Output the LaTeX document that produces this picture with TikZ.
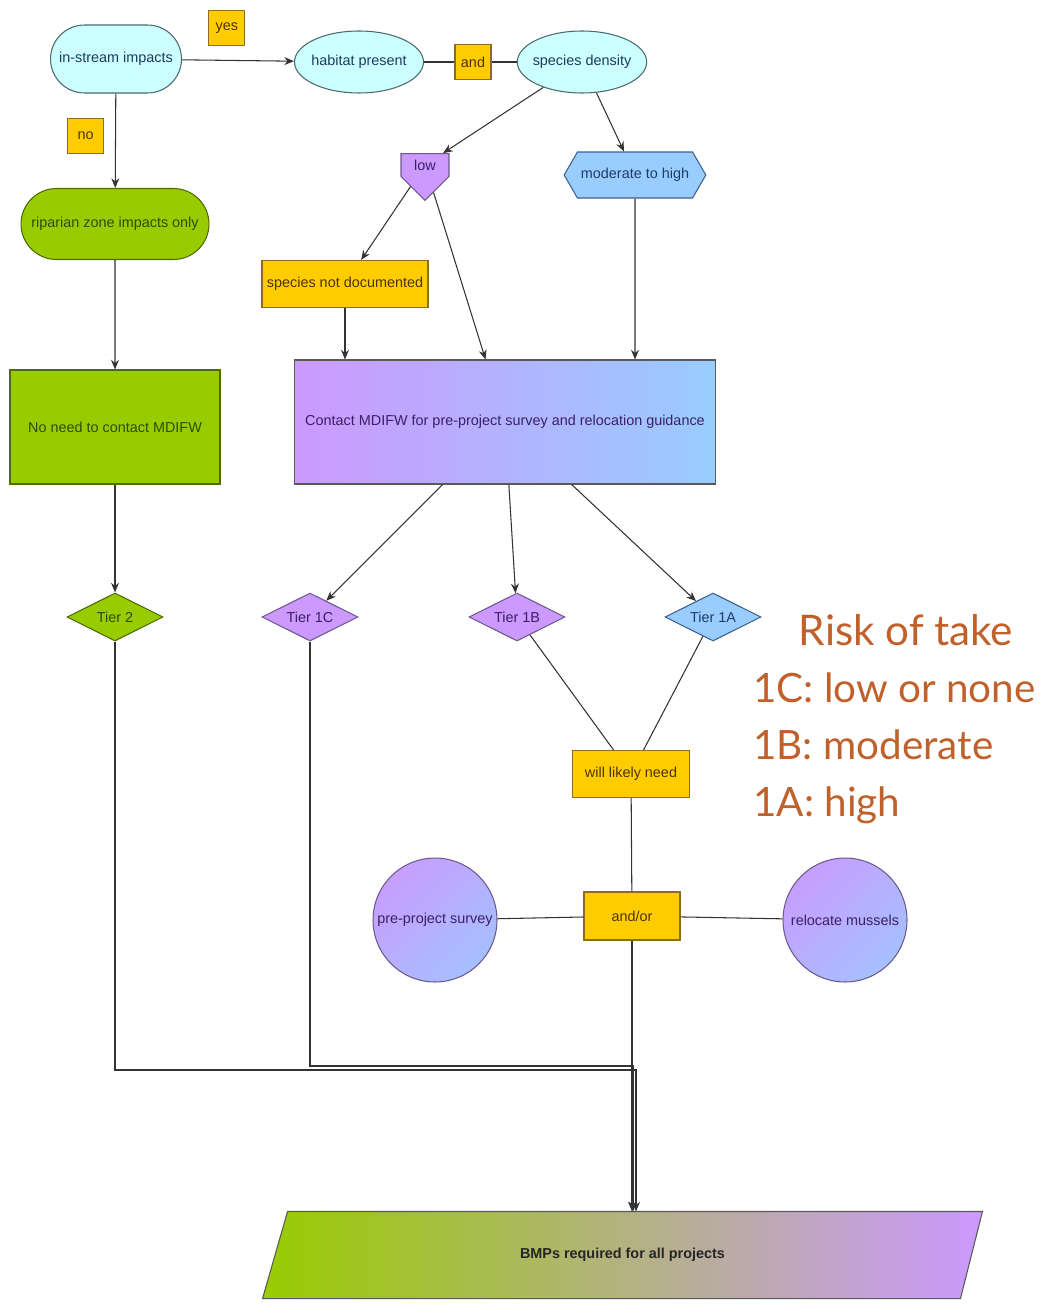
\documentclass[tikz,border=0pt]{standalone}
\usepackage{fontspec}
\setmainfont{Liberation Sans}
\newfontfamily\riskfont{Lato}
\usepackage{xcolor}
\usetikzlibrary{arrows,arrows.meta,shapes,backgrounds}
\definecolor{aqua}{HTML}{CCFFFF}
\definecolor{aquaText}{HTML}{1E3A5F}
\definecolor{aquaLine}{HTML}{4A6B6B}
\definecolor{gold}{HTML}{FFCC00}
\definecolor{goldText}{HTML}{4D3300}
\definecolor{goldLine}{HTML}{8C6D1F}
\definecolor{lime}{HTML}{99CC00}
\definecolor{limeText}{HTML}{2E4D00}
\definecolor{limeLine}{HTML}{4D6B00}
\definecolor{lilac}{HTML}{CC99FF}
\definecolor{lilacText}{HTML}{3D1F66}
\definecolor{lilacLine}{HTML}{6E5A8C}
\definecolor{sky}{HTML}{99CCFF}
\definecolor{skyText}{HTML}{1F3D66}
\definecolor{skyLine}{HTML}{40608C}
\definecolor{sand}{HTML}{C2B38C}
\definecolor{rust}{HTML}{C0612B}
\tikzstyle{flow edge} = [draw=black!80,line width=0.6pt]

\begin{document}
\begin{tikzpicture}
[x=0.02cm,y=-0.02cm,
lineDecorateout/.style={-{Stealth[length=5.5pt,width=4.5pt]},flow edge}, %
lineDecorate/.style={-,flow edge}, %
box/.style={font=\fontsize{8.2}{10}\selectfont,line width=0.6pt,inner sep=2pt},
start/.style={box,rounded rectangle,draw=aquaLine,fill=aqua,text=aquaText,minimum width=2.76cm,minimum height=1.36cm},
query/.style={box,ellipse,inner xsep=-2pt,draw=aquaLine,fill=aqua,text=aquaText,minimum width=2.58cm,minimum height=1.24cm},
choice/.style={box,draw=goldLine,fill=gold,text=goldText,minimum width=0.72cm,minimum height=0.7cm},
tier/.style={box,diamond,aspect=2,inner sep=0pt,minimum width=1.92cm,minimum height=0.96cm},
action/.style={box,circle,draw=lilacLine,minimum size=2.48cm,inner sep=0pt,text=lilacText,
  top color=lilac!90!sky,bottom color=sky!75!lilac,shading angle=45},
risk/.style={text=rust,font=\riskfont\fontsize{23}{28}\selectfont}]

\useasboundingbox (0,0) rectangle (1052,1308);

%% nodes or vertices
\node (instream) at (116,59) [start] {in-stream impacts};
\foreach \nodename/\x/\y/\txt in {habitat/359/62/habitat present, species/582/62/species density}
{
\node (\nodename) at (\x,\y) [query] {\txt};
}
\node (and) at (473,62) [choice] {and};
\node (riparian) at (115,224) [start,fill=lime,draw=limeLine,text=limeText,minimum width=3.9cm,minimum height=1.42cm] {riparian zone impacts only};
\node (low) at (425,165) [box,signal,signal to=south,draw=lilacLine,fill=lilac,text=lilacText,minimum width=0.96cm,minimum height=0.74cm] {low};
\node (moderate) at (635,175) [box,signal,signal to=east and west,signal pointer angle=120,draw=skyLine,fill=sky,text=skyText,minimum width=2.72cm,minimum height=0.92cm] {moderate to high};
\node (notdoc) at (345,284) [choice,minimum width=3.32cm,minimum height=0.94cm] {species not documented};
\node (contact) at (505,422) [box,draw=black!65,left color=lilac,right color=sky,text=lilacText,minimum width=8.42cm,minimum height=2.48cm] {Contact MDIFW for pre-project survey and relocation guidance};
\node (noneed) at (115,427) [box,draw=limeLine,fill=lime,text=limeText,minimum width=4.2cm,minimum height=2.28cm] {No need to contact MDIFW};
\foreach \nodename/\x/\txt/\hue in {tier2/115/Tier 2/lime, tier1C/310/Tier 1C/lilac, tier1B/517/Tier 1B/lilac, tier1A/713/Tier 1A/sky}
{
\node (\nodename) at (\x,617) [tier,fill=\hue,draw=\hue Line,text=\hue Text] {\txt};
}
\node (likely) at (631,774) [choice,minimum width=2.34cm,minimum height=0.94cm] {will likely need};
\node (andor) at (632,916) [choice,minimum width=1.92cm,minimum height=0.96cm] {and/or};
\node (survey) at (435,920) [action] {pre-project survey};
\node (relocate) at (845,920) [action] {relocate mussels};
\node (bmp) at (622.5,1255) [box,minimum width=14.38cm,minimum height=1.72cm,text=black!85,
  font=\fontsize{8.2}{10}\selectfont\bfseries] {BMPs required for all projects};
\begin{pgfonlayer}{background}
\shade[draw=black!65,line width=0.6pt,left color=lime,middle color=sand,right color=lilac]
  (bmp.south west) -- ([xshift=0.5cm]bmp.north west) -- (bmp.north east) -- ([xshift=-0.44cm]bmp.south east) -- cycle;
\end{pgfonlayer}

%% risk legend
\node (risktitle) at (906,645) [risk,anchor=base,font=\riskfont\fontsize{24}{28}\selectfont] {Risk of take};
\foreach \nodename/\y/\txt in {risk1C/702/1C: low or none, risk1B/759/1B: moderate, risk1A/816/1A: high}
{
\node (\nodename) at (747,\y) [risk,anchor=base west] {\txt};
}

%% edges or lines
\path
(instream) edge[lineDecorateout] node[choice,pos=0.4,yshift=0.64cm] (yes) {yes} (habitat)
(instream) edge[lineDecorateout] node[choice,pos=0.45,xshift=-0.6cm] (no) {no} (riparian)
(riparian) edge[lineDecorateout] (noneed)
(noneed) edge[lineDecorateout] (tier2);

\foreach \startnode/\endnode in {habitat/and, and/species, tier1B/likely, tier1A/likely, likely/andor, andor/survey, andor/relocate}
{
\path (\startnode) edge[lineDecorate] (\endnode);
}

\foreach \startnode/\endnode in {species/low, species/moderate, low/notdoc, low/contact, contact/tier1C, contact/tier1B, contact/tier1A}
{
\path (\startnode) edge[lineDecorateout] (\endnode);
}

\path (moderate) edge[lineDecorateout] (moderate |- contact.north)
(notdoc) edge[lineDecorateout] (notdoc |- contact.north);

%% joins into the last box
\coordinate (join2) at (636,1070);
\coordinate (join1C) at (633,1066);
\draw[lineDecorateout] (tier2) |- (join2) -- (join2 |- bmp.north);
\draw[lineDecorateout] (tier1C) |- (join1C) -- (join1C |- bmp.north);
\draw[lineDecorateout] (andor) -- (andor |- bmp.north);

\end{tikzpicture}
\end{document}
